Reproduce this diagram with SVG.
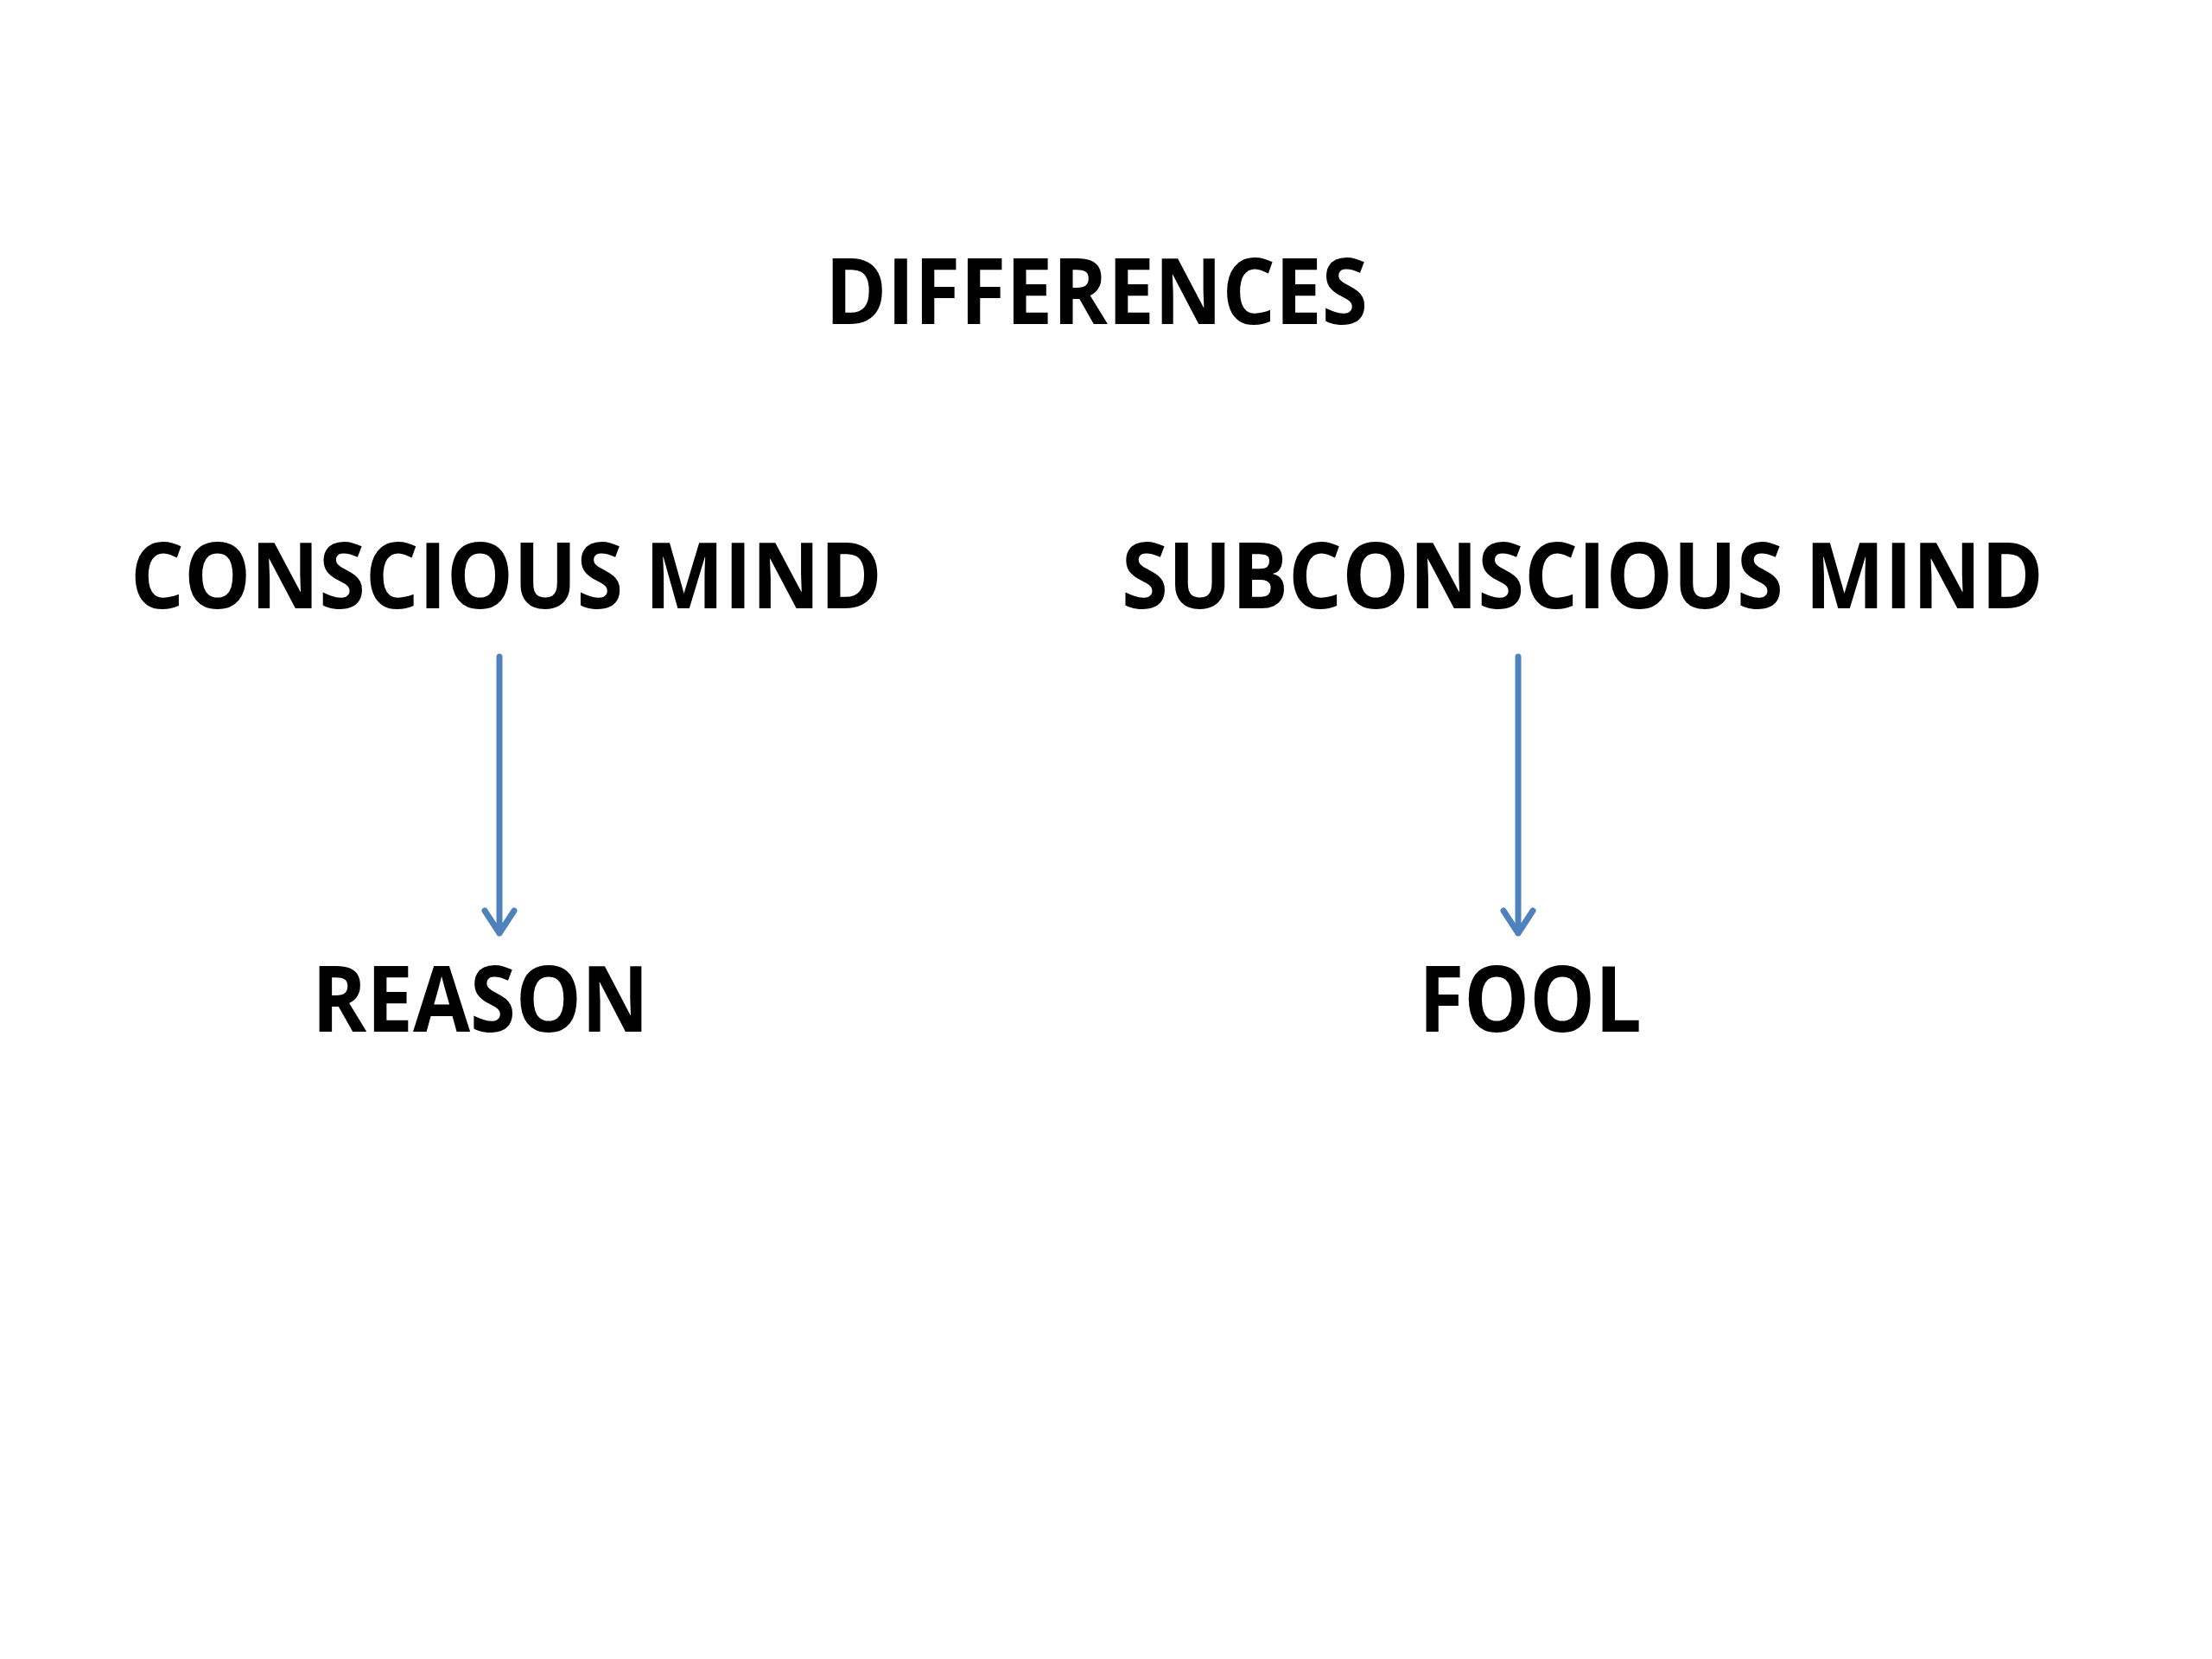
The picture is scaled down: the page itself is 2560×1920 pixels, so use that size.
<svg xmlns="http://www.w3.org/2000/svg" width="2560" height="1920" viewBox="0 0 2560 1920">
<style>
.lbl{font-family:"Open Sans","Liberation Sans",sans-serif;font-weight:700;font-size:105px;fill:#000}
.conn{fill:none;stroke:#4F81BD;stroke-width:7;stroke-linecap:round;stroke-linejoin:round}
</style>
<rect width="2560" height="1920" fill="#fff"/>
<g id="title"><text class="lbl" x="955" y="375" textLength="628" lengthAdjust="spacingAndGlyphs">DIFFERENCES</text></g>
<g id="conscious"><text class="lbl" x="151" y="704" textLength="870" lengthAdjust="spacingAndGlyphs">CONSCIOUS MIND</text></g>
<g id="subconscious"><text class="lbl" x="1298" y="704" textLength="1067" lengthAdjust="spacingAndGlyphs">SUBCONSCIOUS MIND</text></g>
<g id="reason"><text class="lbl" x="361" y="1194" textLength="390" lengthAdjust="spacingAndGlyphs">REASON</text></g>
<g id="fool"><text class="lbl" x="1642" y="1194" textLength="258" lengthAdjust="spacingAndGlyphs">FOOL</text></g>
<g id="connectors">
<path class="conn" d="M578 760 V1080 M561 1054 L578 1080 L595 1054"/>
<path class="conn" d="M1757 760 V1080 M1740 1054 L1757 1080 L1774 1054"/>
</g>
</svg>
